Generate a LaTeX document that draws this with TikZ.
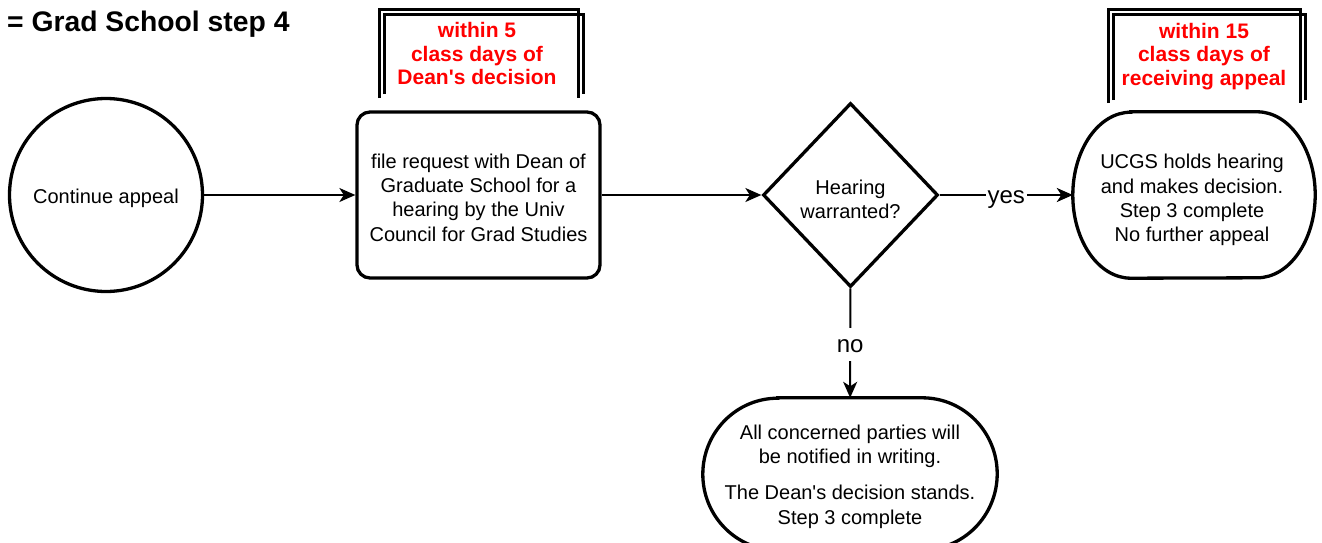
\documentclass[tikz,border=0pt]{standalone}
\usepackage{fontspec}
\setmainfont{Liberation Sans}[Ligatures=TeXOff]
\usetikzlibrary{arrows.meta,shapes.geometric}
\begin{document}
\begin{tikzpicture}[x=1pt,y=1pt,
  txt/.style={font=\fontsize{20}{24.3}\selectfont, align=center, inner sep=0pt},
  shapeline/.style={line width=3.3pt},
  conn/.style={line width=2pt, -{Stealth[length=16pt,width=14pt,inset=4.5pt]}},
  redlbl/.style={text=red, font=\fontsize{21}{23.5}\selectfont\bfseries, align=center},
  bracket/.style={line width=3pt},
  lbl/.style={fill=white, font=\fontsize{24}{26}\selectfont, inner xsep=2pt, text height=16pt, text depth=0pt}]
\useasboundingbox (0,0) rectangle (1322,-543);
\clip (0,0) rectangle (1322,-543);

\node[anchor=base west, font=\fontsize{28.3}{30}\selectfont\bfseries, inner sep=0pt] (title) at (7,-32) {= Grad School step 4};

% timing brackets
\draw[bracket] (379,-98) -- (379,-10) -- (578,-10) -- (578,-98);
\draw[bracket] (384,-94) -- (384,-15) -- (583,-15) -- (583,-94);
\node[redlbl] (t1) at (477,-53.5) {within 5\\class days of\\Dean's decision};

\draw[bracket] (1108,-103) -- (1108,-10) -- (1300,-10) -- (1300,-103);
\draw[bracket] (1113,-100) -- (1113,-15) -- (1305,-15) -- (1305,-100);
\node[redlbl] (t2) at (1204,-56.5) {within 15\\class days of\\receiving appeal};

% main shapes
\node[circle, draw, shapeline, minimum size=193pt, inner sep=0pt] (start) at (106,-195) {};
\node[txt] (starttxt) at ([yshift=-3pt]start.center) {Continue appeal};

\node[rectangle, rounded corners=13pt, draw, shapeline, minimum width=243pt, minimum height=166pt, inner sep=0pt] (req) at (478.5,-195) {};
\node[txt] (reqtxt) at ([yshift=-2.5pt]req.center) {file request with Dean of\\Graduate School for a\\hearing by the Univ\\Council for Grad Studies};

\node[diamond, draw, shapeline, minimum width=175pt, minimum height=184pt, inner sep=0pt] (hear) at (850.5,-195) {};
\node[txt] (heartxt) at ([yshift=-4pt]hear.center) {Hearing\\warranted?};

\node[rectangle, minimum width=242pt, minimum height=166pt, inner sep=0pt] (ucgs) at (1194,-195) {};
\draw[shapeline] ([xshift=58pt]ucgs.north west) -- ([xshift=-58pt]ucgs.north east)
  arc[start angle=90,end angle=-90,x radius=58pt,y radius=83pt]
  -- ([xshift=58pt]ucgs.south west)
  arc[start angle=270,end angle=90,x radius=58pt,y radius=83pt] -- cycle;
\node[txt] (ucgstxt) at ([xshift=-2pt,yshift=-5pt]ucgs.center) {UCGS holds hearing\\and makes decision.\\Step 3 complete\\No further appeal};

\node[rectangle, minimum width=294pt, minimum height=152pt, inner sep=0pt] (notify) at (850,-474) {};
\draw[shapeline] ([xshift=75pt]notify.north west) -- ([xshift=-75pt]notify.north east)
  arc[start angle=90,end angle=-90,x radius=75pt,y radius=76pt]
  -- ([xshift=75pt]notify.south west)
  arc[start angle=270,end angle=90,x radius=75pt,y radius=76pt] -- cycle;
\node[txt] (notifytxt) at ([yshift=-2.5pt]notify.center) {All concerned parties will\\be notified in writing.\\[12pt]The Dean's decision stands.\\Step 3 complete};

% connectors
\draw[conn] (start) -- (req);
\draw[conn] (req) -- (hear);
\draw[conn] (hear) -- node[lbl] {yes} (ucgs);
\draw[conn] (hear) -- node[lbl, pos=0.51, inner ysep=8.5pt] {no} (notify);
\end{tikzpicture}
\end{document}
